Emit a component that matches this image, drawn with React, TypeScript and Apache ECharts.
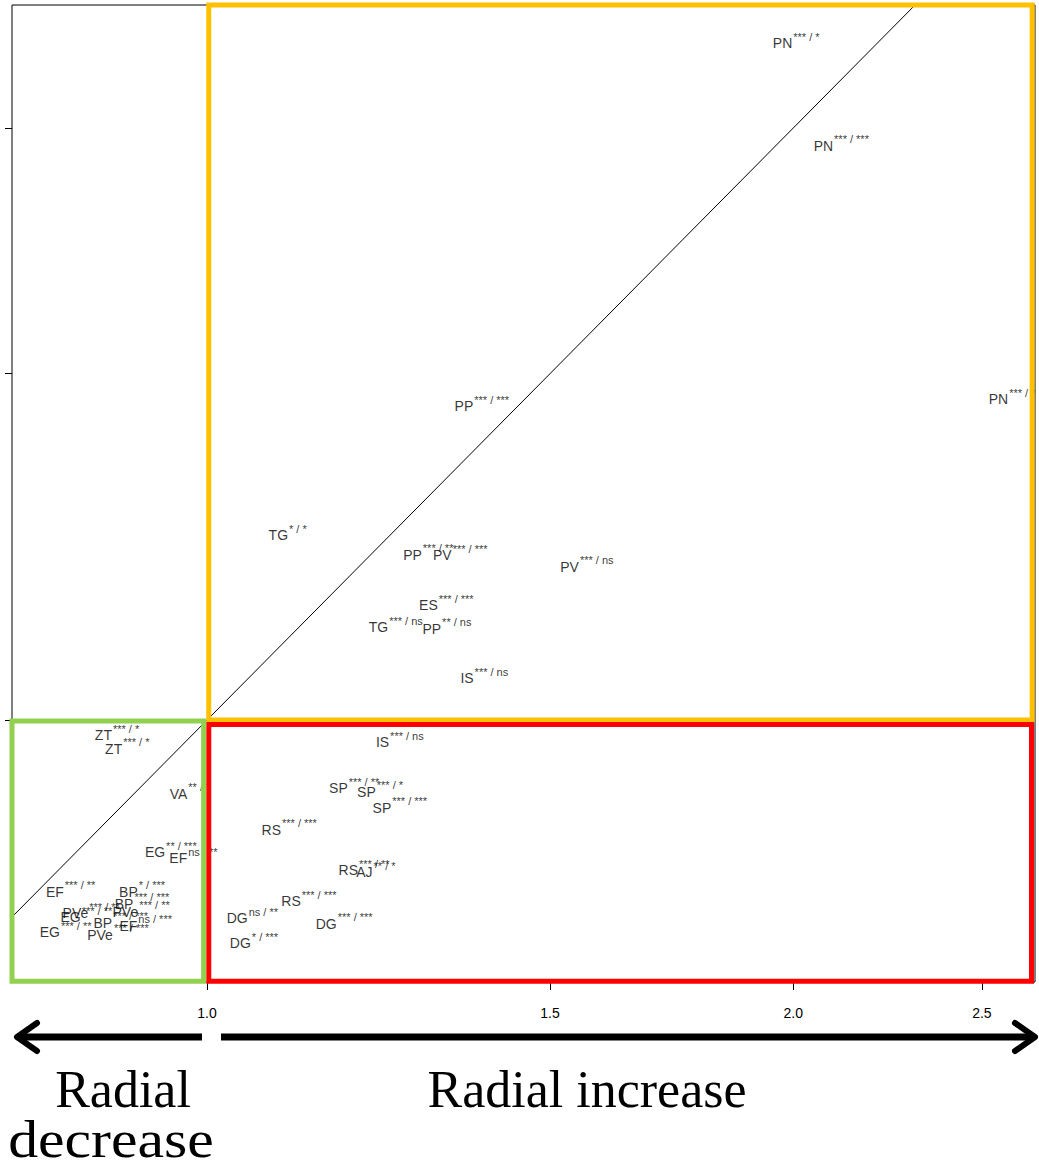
import React, { useEffect, useRef } from "react";
import * as echarts from "echarts";

// ---- data ----
const codes = [
  "PN", "PN", "PN", "PP", "TG", "PP", "PV", "PV", "ES", "TG", "PP", "IS",
  "IS", "SP", "SP", "SP", "RS", "RS", "AJ", "RS", "DG", "DG", "DG",
  "ZT", "ZT", "VA", "EG", "EF", "EF", "BP", "BP", "PVe", "EG", "PVe", "BP", "EF", "EG", "PVe",
];
const signif = [
  "*** / *", "*** / ***", "*** / *", "*** / ***", "* / *", "*** / **", "*** / ***", "*** / ns", "*** / ***", "*** / ns", "** / ns", "*** / ns",
  "*** / ns", "*** / **", "*** / *", "*** / ***", "*** / ***", "*** / **", "** / *", "*** / ***", "ns / **", "*** / ***", "* / ***",
  "*** / *", "*** / *", "** / *", "** / ***", "ns / **", "*** / **", "* / ***", "*** / ***", "*** / **", "*** / **", "*** / **", "*** / ***", "ns / ***", "*** / **", "*** / ***",
];
const xRatio = [
  2.007, 2.117, 2.591, 1.384, 1.1, 1.299, 1.349, 1.567, 1.327, 1.25, 1.328, 1.388,
  1.256, 1.19, 1.227, 1.256, 1.102, 1.204, 1.221, 1.128, 1.055, 1.176, 1.057,
  0.899, 0.91, 0.98, 0.958, 0.984, 0.851, 0.926, 0.926, 0.872, 0.867, 0.925, 0.903, 0.93, 0.846, 0.9,
];
const yRatio = [
  2.215, 1.965, 1.46, 1.448, 1.245, 1.217, 1.216, 1.2, 1.147, 1.118, 1.116, 1.053,
  0.977, 0.926, 0.922, 0.905, 0.882, 0.841, 0.839, 0.811, 0.795, 0.79, 0.772,
  0.985, 0.97, 0.92, 0.859, 0.853, 0.82, 0.82, 0.809, 0.8, 0.796, 0.801, 0.791, 0.788, 0.782, 0.78,
];
const xTicks = [1.0, 1.5, 2.0, 2.5];
const yTicks = [1.0, 1.5, 2.0];
const xRange = [0.794, 2.662];
const yRange = [0.7358, 2.31];
const diagonal = [0.794, 2.31];
// quadrant frames [x0, y0, x1, y1] in data units
const frameIncrease = [1.002, 1.0, 2.653, 2.31];
const frameDecreaseY = [1.002, 0.7365, 2.651, 0.9947];
const frameDecrease = [0.794, 0.7365, 0.996, 0.9988];

export default function App() {
  const ref = useRef<HTMLDivElement>(null);
  useEffect(() => {
    if (!ref.current) return;
    const chart = echarts.init(ref.current, null, { renderer: "svg" });
    const points = codes.map((c, i) => ({
      value: [xRatio[i], yRatio[i]],
      label: { formatter: `{m|${c}}{s|${signif[i]}}` },
    }));
    const frame = (f: number[], color: string) => [
      { coord: [f[0], f[1]], itemStyle: { color: "rgba(0,0,0,0)", borderColor: color, borderWidth: 5 } },
      { coord: [f[2], f[3]] },
    ];
    const font = "Liberation Sans, Arial";
    chart.setOption({
      animation: false,
      backgroundColor: "#ffffff",
      grid: {
        left: 12, top: 5, right: 4, bottom: 186,
        show: true, borderColor: "#000", borderWidth: 1, backgroundColor: "rgba(0,0,0,0)",
      },
      xAxis: {
        type: "log", logBase: Math.E, min: xRange[0], max: xRange[1],
        axisLine: { show: false },
        splitLine: { show: false },
        axisTick: { show: true, customValues: xTicks, length: 8, lineStyle: { color: "#000" } },
        axisLabel: {
          show: true, customValues: xTicks, margin: 24,
          fontFamily: font, fontSize: 14, color: "#000",
          formatter: (v: number) => v.toFixed(1),
        },
      },
      yAxis: {
        type: "log", logBase: Math.E, min: yRange[0], max: yRange[1],
        axisLine: { show: false },
        splitLine: { show: false },
        axisTick: { show: true, customValues: yTicks, length: 7, lineStyle: { color: "#000" } },
        axisLabel: { show: false },
      },
      series: [
        {
          type: "line",
          data: [[diagonal[0], diagonal[0]], [diagonal[1], diagonal[1]]],
          symbol: "none",
          lineStyle: { color: "#000", width: 1 },
          z: 2,
          silent: true,
        },
        {
          type: "scatter",
          data: points,
          symbolSize: 1,
          itemStyle: { color: "rgba(0,0,0,0)" },
          z: 3,
          label: {
            show: true,
            position: "inside",
            color: "#000",
            textBorderWidth: 0,
            fontFamily: font,
            rich: {
              m: { fontSize: 14, lineHeight: 19, verticalAlign: "bottom", color: "#000", fontFamily: font, textBorderWidth: 0 },
              s: { fontSize: 11, lineHeight: 12, verticalAlign: "top", color: "#000", fontFamily: font, textBorderWidth: 0, padding: [0, 0, 0, 1] },
            },
          },
        },
        {
          type: "scatter",
          data: [],
          z: 10,
          silent: true,
          markArea: {
            silent: true,
            z: 10,
            label: { show: false },
            data: [
              frame(frameIncrease, "#FFC000"),
              frame(frameDecreaseY, "#FF0000"),
              frame(frameDecrease, "#92D050"),
            ],
          },
        },
      ],
      graphic: [
        { type: "line", shape: { x1: 17, y1: 1037, x2: 202, y2: 1037 }, style: { stroke: "#000", lineWidth: 7 } },
        { type: "polyline", shape: { points: [[37, 1023], [17, 1037], [37, 1051]] }, style: { stroke: "#000", lineWidth: 6, fill: null, lineCap: "round", lineJoin: "round" } },
        { type: "line", shape: { x1: 221, y1: 1037, x2: 1033, y2: 1037 }, style: { stroke: "#000", lineWidth: 7 } },
        { type: "polyline", shape: { points: [[1015, 1023], [1035, 1037], [1015, 1051]] }, style: { stroke: "#000", lineWidth: 6, fill: null, lineCap: "round", lineJoin: "round" } },
        { type: "text", x: 123, y: 1089, style: { text: "Radial", font: "52px 'Liberation Serif'", fill: "#000", textAlign: "center", textVerticalAlign: "middle" } },
        { type: "text", x: 111, y: 1139, scaleX: 1.15, style: { text: "decrease", font: "52px 'Liberation Serif'", fill: "#000", textAlign: "center", textVerticalAlign: "middle" } },
        { type: "text", x: 587, y: 1089, style: { text: "Radial increase", font: "52px 'Liberation Serif'", fill: "#000", textAlign: "center", textVerticalAlign: "middle" } },
      ],
    });
    return () => chart.dispose();
  }, []);
  return <div ref={ref} style={{ position: "fixed", left: 0, top: 0, width: 1039, height: 1168 }} />;
}
